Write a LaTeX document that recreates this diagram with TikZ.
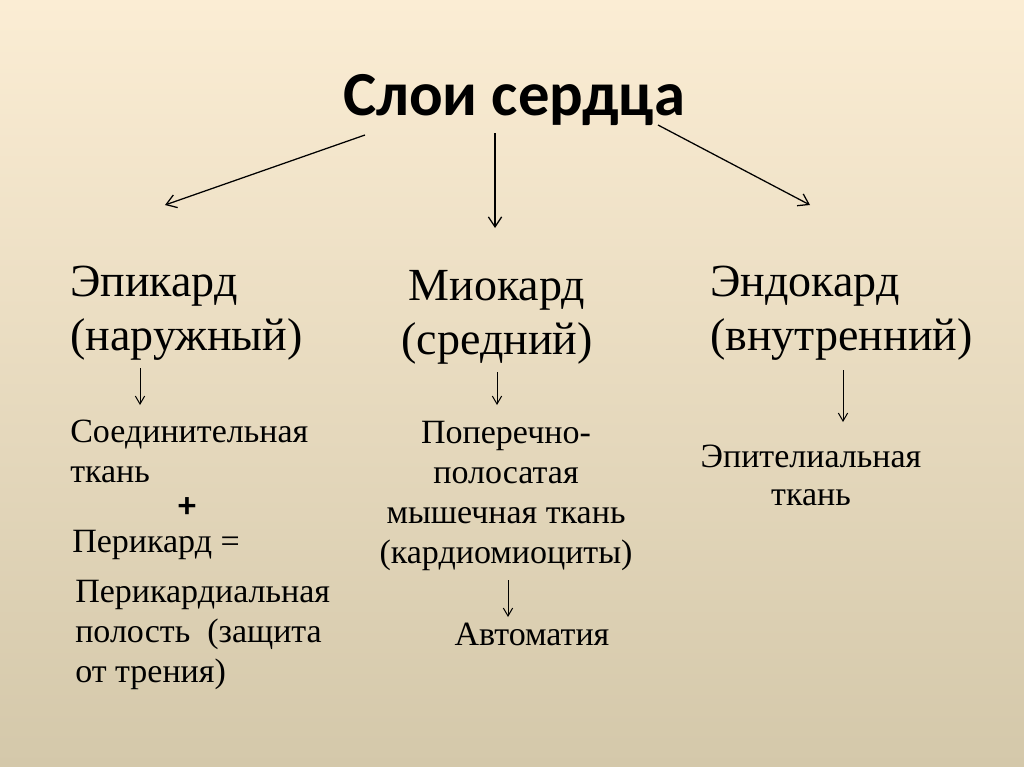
\documentclass[tikz,border=0pt]{standalone}
\usepackage{fontspec}
\setmainfont{Liberation Serif}
\newfontfamily\titlefont{Carlito}
\usetikzlibrary{arrows.meta}
\definecolor{bgtop}{HTML}{FBEDD4}
\definecolor{bgmid}{HTML}{F3E4C6}
\definecolor{bgbot}{HTML}{D4C8AA}
\begin{document}
\begin{tikzpicture}[x=0.75pt,y=-0.75pt,
  big/.style={font=\fontsize{34.5}{40}\selectfont, inner sep=0pt},
  small/.style={font=\fontsize{25.5}{30}\selectfont, inner sep=0pt},
  mainarrow/.style={-{Straight Barb[length=7.5pt,width=10pt]}, line width=0.95pt},
  tinyarrow/.style={-{Straight Barb[length=6pt,width=7pt]}, line width=0.75pt}]
\begin{scope}[y=0.75pt]
\shade[top color=bgtop, middle color=bgmid, bottom color=bgbot] (0,-767) rectangle (1024,0);
\end{scope}
\useasboundingbox (0,0) rectangle (1024,767);

\node[font=\titlefont\bfseries\fontsize{47}{50}\selectfont, anchor=base, inner sep=0pt] (title) at (514,115) {Слои сердца};

\node[big, anchor=base west, align=left] (epi) at (70,350) {Эпикард\\(наружный)};
\node[big, anchor=base, align=center] (mio) at (497,354) {Миокард\\(средний)};
\node[big, anchor=base west, align=left] (endo) at (710,350) {Эндокард\\(внутренний)};

\node[small, anchor=base west, align=left] (soed) at (70,482) {Соединительная\\ткань};
\node[font=\titlefont\bfseries\fontsize{27}{27}\selectfont, inner sep=0pt] (plus) at (187,508) {+};
\node[small, anchor=base west] (peri) at (72,552) {Перикард =};
\node[small, anchor=base west, align=left] (pol) at (75,682) {Перикардиальная\\полость\ \ (защита\\от трения)};
\node[small, anchor=base, align=center] (pop) at (506,563) {Поперечно-\\полосатая\\мышечная ткань\\(кардиомиоциты)};
\node[small, anchor=base] (avt) at (532,645) {Автоматия};
\node[font=\fontsize{25.5}{28.5}\selectfont, inner sep=0pt, anchor=base, align=center] (epit) at (811,505) {Эпителиальная\\ткань};

\coordinate (l0) at (365,135); \coordinate (l1) at (165,205);
\coordinate (m0) at (495,133); \coordinate (m1) at (495,228);
\coordinate (r0) at (658,125); \coordinate (r1) at (810,205);
\draw[mainarrow] (l0) -- (l1);
\draw[mainarrow] (m0) -- (m1);
\draw[mainarrow] (r0) -- (r1);

\coordinate (e0) at (140,368); \coordinate (e1) at (140,405);
\coordinate (mi0) at (497,372); \coordinate (mi1) at (497,405);
\coordinate (en0) at (843,370); \coordinate (en1) at (843,422);
\coordinate (au0) at (508,580); \coordinate (au1) at (508,617);
\draw[tinyarrow] (e0) -- (e1);
\draw[tinyarrow] (mi0) -- (mi1);
\draw[tinyarrow] (en0) -- (en1);
\draw[tinyarrow] (au0) -- (au1);
\end{tikzpicture}
\end{document}
